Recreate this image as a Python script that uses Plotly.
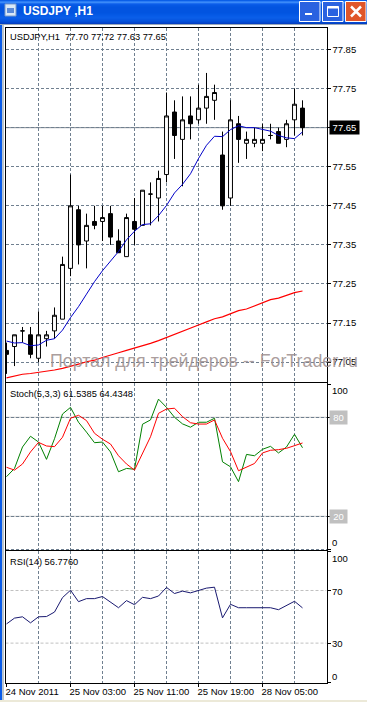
import plotly.graph_objects as go

W, H = 367, 702
symbol = "USDJPY,H1"
bar_index = list(range(38))
opens = [77.08,77.09,77.13,77.12,77.06,77.11,77.13,77.16,77.29,77.44,77.36,77.41,77.41,77.43,77.36,77.32,77.41,77.40,77.48,77.47,77.53,77.69,77.62,77.68,77.67,77.70,77.72,77.58,77.47,77.66,77.61,77.61,77.61,77.63,77.64,77.62,77.67,77.70]
highs = [77.10,77.12,77.14,77.14,77.18,77.13,77.19,77.32,77.53,77.45,77.43,77.45,77.45,77.45,77.39,77.43,77.47,77.49,77.51,77.54,77.74,77.72,77.73,77.73,77.76,77.79,77.76,77.64,77.72,77.68,77.64,77.65,77.66,77.66,77.65,77.67,77.75,77.72]
lows = [77.02,77.04,77.10,77.06,77.05,77.09,77.11,77.16,77.27,77.30,77.29,77.39,77.36,77.35,77.33,77.32,77.35,77.40,77.40,77.41,77.51,77.57,77.50,77.62,77.66,77.66,77.67,77.44,77.45,77.56,77.57,77.60,77.59,77.62,77.61,77.60,77.63,77.63]
closes = [77.07,77.12,77.13,77.07,77.12,77.12,77.17,77.30,77.45,77.35,77.40,77.40,77.42,77.37,77.33,77.42,77.39,77.49,77.48,77.52,77.68,77.63,77.67,77.66,77.70,77.73,77.74,77.45,77.67,77.62,77.62,77.62,77.62,77.63,77.61,77.66,77.71,77.65]
ma_fast = [77.104,77.099,77.100,77.092,77.094,77.106,77.110,77.132,77.164,77.192,77.224,77.256,77.284,77.310,77.333,77.363,77.385,77.402,77.404,77.425,77.451,77.483,77.505,77.532,77.571,77.605,77.628,77.627,77.645,77.655,77.650,77.650,77.646,77.641,77.630,77.624,77.622,77.639]
ma_slow = [77.010,77.015,77.019,77.021,77.024,77.026,77.030,77.034,77.039,77.045,77.051,77.055,77.062,77.069,77.074,77.080,77.086,77.091,77.098,77.105,77.113,77.119,77.127,77.137,77.145,77.153,77.161,77.166,77.175,77.182,77.186,77.194,77.202,77.210,77.214,77.222,77.228,77.232]
stoch_k = [44,49,62,68.5,65,54.5,67,82,86,77,71,64.6,65,59,47,49,48.5,75.8,78.4,91,86,80,76,74,77,77,79.4,53,50,41,57.5,56.7,60.6,62.4,58.4,62,69.7,61.5385]
stoch_d = [49.7,48,51.7,59,64.8,62.6,62.2,67.9,79.4,81.2,78,70.3,66.7,63.8,56.7,51.7,48,58,68.2,82.4,85,85.5,80.4,76.7,75.9,75.9,78.4,67.3,59.2,47.6,50,52,58.4,60,60.4,61.2,62.8,64.4348]
rsi = [44.6,49,50,45.4,50,50.2,53.6,64.6,70.2,61.5,63.8,63.8,65.4,60.8,56.9,62.3,59.2,64.8,63.8,65.8,72.3,67.7,69.5,68.2,70.2,71.8,72.5,49.2,59.5,56.9,56.9,56.9,56.9,56.9,55.4,58.5,61.8,56.776]
price_ticks = [77.05,77.15,77.25,77.35,77.45,77.55,77.65,77.75,77.85]
price_labels = ["77.05","77.15","77.25","77.35","77.45","77.55","","77.75","77.85"]
last_price = 77.65
time_tick_pos = [0,8,16,24,32]
time_tick_labels = ["24 Nov 2011","25 Nov 03:00","25 Nov 11:00","25 Nov 19:00","28 Nov 05:00"]
time_grid_pos = [4,12,20,28,36]

FONT = "Liberation Sans"
GRID = "#708090"
DASH = "3px,2px"
fx = lambda p: p / W
fy = lambda p: 1 - p / H

fig = go.Figure()
fig.add_trace(go.Candlestick(x=bar_index, open=opens, high=highs, low=lows, close=closes,
    xaxis="x", yaxis="y", whiskerwidth=0, hoverinfo="skip",
    increasing=dict(line=dict(color="black", width=1), fillcolor="white"),
    decreasing=dict(line=dict(color="black", width=1), fillcolor="black")))
fig.add_trace(go.Scatter(x=bar_index, y=ma_fast, mode="lines", line=dict(color="#0000c8", width=1), xaxis="x", yaxis="y"))
fig.add_trace(go.Scatter(x=bar_index, y=ma_slow, mode="lines", line=dict(color="#ff0000", width=1.2), xaxis="x", yaxis="y"))
fig.add_trace(go.Scatter(x=bar_index, y=stoch_k, mode="lines", line=dict(color="#008000", width=1), xaxis="x2", yaxis="y2"))
fig.add_trace(go.Scatter(x=bar_index, y=stoch_d, mode="lines", line=dict(color="#ff0000", width=1), xaxis="x2", yaxis="y2"))
fig.add_trace(go.Scatter(x=bar_index, y=rsi, mode="lines", line=dict(color="#191970", width=1), xaxis="x3", yaxis="y3"))

xrange_ = [(5.5 - 6.5) / 8, (326.5 - 6.5) / 8]
def xaxis(anchor, **kw):
    d = dict(domain=[fx(5.5), fx(326.5)], range=xrange_, anchor=anchor, tickmode="array",
             tickvals=time_tick_pos, showgrid=True, gridcolor=GRID, griddash=DASH, gridwidth=1,
             zeroline=False, showline=True, linecolor="black", linewidth=1,
             showticklabels=False, ticks="", tickangle=0,
             minor=dict(tickvals=time_grid_pos, showgrid=True, gridcolor=GRID, griddash=DASH, gridwidth=1, ticks=""))
    d.update(kw)
    return d
def yaxis(anchor, top, bottom, rng, **kw):
    d = dict(domain=[fy(bottom), fy(top)], range=rng, anchor=anchor, side="right",
             zeroline=False, showline=True, linecolor="black", linewidth=1, mirror=True,
             ticks="outside", ticklen=3, tickcolor="black", tickwidth=1, tickmode="array",
             tickfont=dict(family=FONT, size=9.5, color="black"))
    d.update(kw)
    return d

layout = dict(width=W, height=H, autosize=False, margin=dict(l=0, r=0, t=0, b=0),
    paper_bgcolor="white", plot_bgcolor="white", showlegend=False, boxgap=0.3,
    xaxis=xaxis("y", mirror=True, rangeslider=dict(visible=False)),
    xaxis2=xaxis("y2", side="top"),
    xaxis3=xaxis("y3", mirror=True, ticks="outside", ticklen=3, tickcolor="black", showticklabels=True,
                 ticktext=time_tick_labels, ticklabelposition="outside right", ticklabelshift=-2,
                 tickfont=dict(family=FONT, size=9.5, color="black")),
    yaxis=yaxis("x", 28, 381.7, [77.0, 77.905], tickvals=price_ticks, ticktext=price_labels,
                showgrid=True, gridcolor=GRID, griddash=DASH, gridwidth=1),
    yaxis2=yaxis("x2", 383.3, 551, [-1.03, 100.6], tickvals=[0, 20, 80, 100], showticklabels=False,
                 showgrid=True, gridcolor=GRID, griddash=DASH, gridwidth=1),
    yaxis3=yaxis("x3", 551, 682.6, [0, 100], tickvals=[0, 30, 70, 100], showticklabels=False, showgrid=False),
)

shapes = []
def rect(x0, y0, x1, y1, color, line=None, layer="below"):
    shapes.append(dict(type="rect", xref="paper", yref="paper", x0=fx(x0), x1=fx(x1), y0=fy(y0), y1=fy(y1),
                       fillcolor=color, line=dict(width=1 if line else 0, color=line or color), layer=layer))

# window chrome
title_rows = ["#0a5fe8","#2a7cf5","#3a8af8","#1a6cf0","#0a5ce8","#0558e4","#0356e2","#0254e0","#0254e0","#0254e0",
              "#0254e0","#0254e0","#0254e0","#0256e2","#0458e4","#065ae6","#085ce8","#0a5ee8","#0a5ce6","#0858e2",
              "#0654de","#0450d8","#0448d0","#0440c4"]
for r, c in enumerate(title_rows):
    rect(0, r, W, r + 1, c)
rect(0, 24, W, 25, "#9aa8b8")
rect(0, 25, 2, 701, "#0a5ce8")
rect(2, 25, 4, 701, "#b8c4d0")
rect(0, 700, W, H, "#ece9d8")
# title icon
rect(5, 4, 16, 16, "#d8e8f8", "#7a9ac8", "above")
rect(7, 8, 14, 13, "#5a8ad8", None, "above")
# buttons
for x0, c in [(299.5, "#2a62e0"), (322.5, "#2a62e0"), (345.5, "#e0562a")]:
    rect(x0, 1.5, x0 + 20.5, 21.5, c, "white", "above")
rect(305, 13, 312, 15, "white", None, "above")
rect(327.5, 6.5, 338.5, 16.5, "rgba(0,0,0,0)", "white", "above")
rect(327.5, 6.5, 338.5, 8.5, "white", None, "above")
for a, b in [(351, 361), (361, 351)]:
    shapes.append(dict(type="line", xref="paper", yref="paper", x0=fx(a), x1=fx(b), y0=fy(6.5), y1=fy(16.5),
                       line=dict(color="white", width=2.5), layer="above"))
# last price line and indicator levels
shapes.append(dict(type="line", xref="x", yref="y", x0=xrange_[0], x1=xrange_[1], y0=last_price, y1=last_price,
                   line=dict(color="#808890", width=1), layer="below"))
for lv in (20, 80):
    shapes.append(dict(type="line", xref="x2", yref="y2", x0=xrange_[0], x1=xrange_[1], y0=lv, y1=lv,
                       line=dict(color="#c0c0c0", width=1), layer="below"))
for lv in (30, 70):
    shapes.append(dict(type="line", xref="x3", yref="y3", x0=xrange_[0], x1=xrange_[1], y0=lv, y1=lv,
                       line=dict(color="#c0c0c0", width=1, dash="3px,2px"), layer="below"))

annos = []
def text(x, y, s, size=9.5, color="black", anchor="left", **kw):
    annos.append(dict(xref="paper", yref="paper", x=fx(x), y=fy(y), text=s, showarrow=False, xanchor=anchor,
                      yanchor="middle", font=dict(family=FONT, size=size, color=color),
                      borderpad=0, **kw))
text(21.5, 11.5, "<b>USDJPY ,H1</b>", 12, "white")
text(8.5, 36.5, f"{symbol}\u00a0 77.70 77.72 77.63 77.65", 9.3)
text(8.5, 393.5, "Stoch(5,3,3) 61.5385 64.4348", 9.3)
text(8.5, 561.5, "RSI(14) 56.7760", 9.3)
text(331, 390, "100"); text(331, 542.5, "0")
text(329, 127.3, "77.65", 9.5, "white", bgcolor="black", width=29, height=13, align="center")
text(329, 417.3, "80", 9.5, "white", bgcolor="#c0c0c0", width=17, height=13, align="center")
text(329, 516.3, "20", 9.5, "white", bgcolor="#c0c0c0", width=17, height=13, align="center")
text(331, 558, "100"); text(331, 591, "70"); text(331, 643, "30"); text(331, 676.5, "0")
text(49, 361, "Портал для трейдеров -- ForTrader.ru", 17.8, "rgba(160,145,145,0.9)")

fig.update_layout(shapes=shapes, annotations=annos, **layout)
fig.write_html("out.html", config=dict(displayModeBar=False),
               post_script="document.body.style.margin='0';document.body.style.overflow='hidden';")
